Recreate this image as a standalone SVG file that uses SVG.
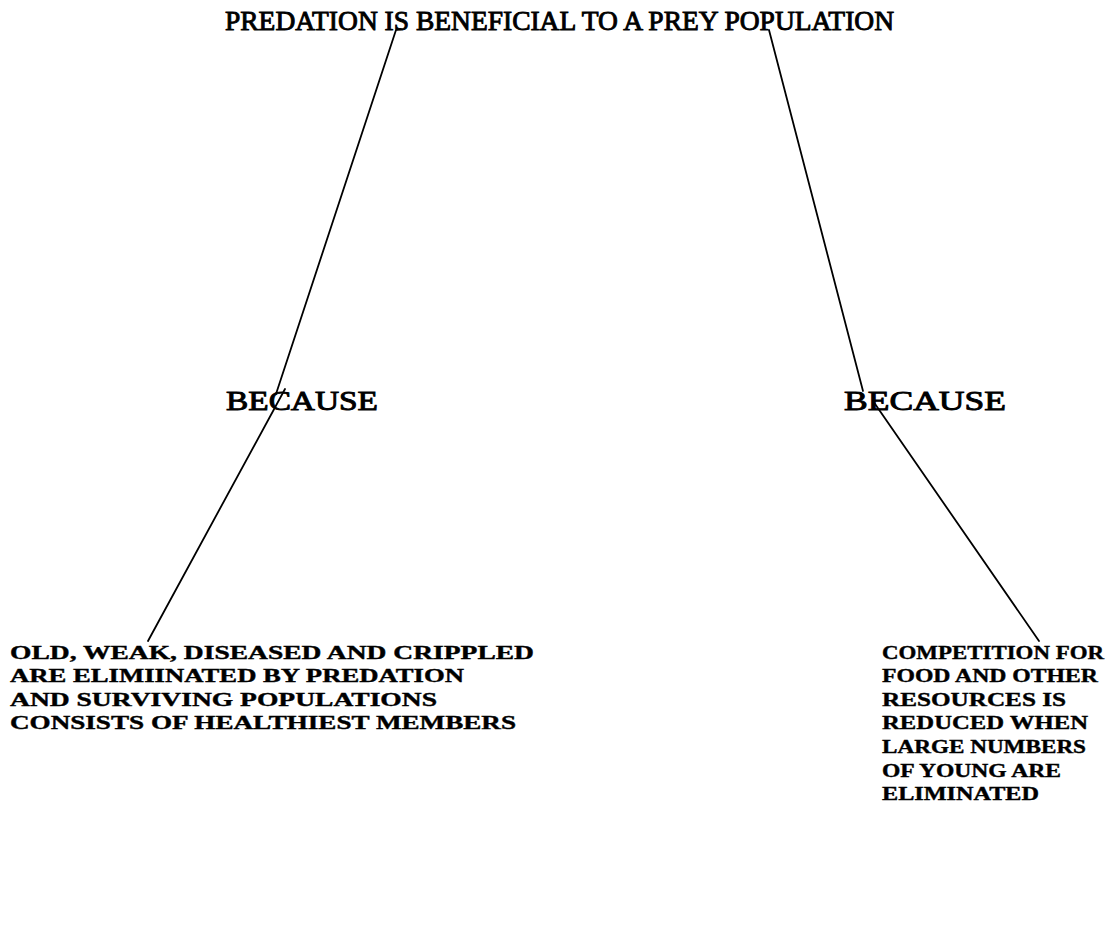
<svg xmlns="http://www.w3.org/2000/svg" width="1113" height="938" viewBox="0 0 1113 938">
<style>
.t{font-family:"Liberation Serif","Times New Roman",serif;fill:#000;stroke:#000;}
.h{font-size:27px;stroke-width:0.9;}
.b{font-size:27px;stroke-width:0.9;}
.s{font-size:19.5px;font-weight:bold;stroke-width:0.4;}
.c{stroke:#000;stroke-width:1.8;fill:none;stroke-linecap:round;}
</style>
<rect width="1113" height="938" fill="#fff"/>
<g id="title"><text class="t h" x="225" y="30" textLength="669" lengthAdjust="spacingAndGlyphs">PREDATION IS BENEFICIAL TO A PREY POPULATION</text></g>
<g id="because-left"><text class="t b" x="226" y="410" textLength="152" lengthAdjust="spacingAndGlyphs">BECAUSE</text></g>
<g id="because-right"><text class="t b" x="844" y="410" textLength="162" lengthAdjust="spacingAndGlyphs">BECAUSE</text></g>
<g id="reason-left" class="t s">
<text x="10" y="659" textLength="524" lengthAdjust="spacingAndGlyphs">OLD, WEAK, DISEASED AND CRIPPLED</text>
<text x="10" y="682" textLength="454" lengthAdjust="spacingAndGlyphs">ARE ELIMIINATED BY PREDATION</text>
<text x="10" y="706" textLength="427" lengthAdjust="spacingAndGlyphs">AND SURVIVING POPULATIONS</text>
<text x="10" y="729" textLength="506" lengthAdjust="spacingAndGlyphs">CONSISTS OF HEALTHIEST MEMBERS</text>
</g>
<g id="reason-right" class="t s">
<text x="882" y="659" textLength="222" lengthAdjust="spacingAndGlyphs">COMPETITION FOR</text>
<text x="882" y="682" textLength="216" lengthAdjust="spacingAndGlyphs">FOOD AND OTHER</text>
<text x="882" y="706" textLength="184" lengthAdjust="spacingAndGlyphs">RESOURCES IS</text>
<text x="882" y="729" textLength="206" lengthAdjust="spacingAndGlyphs">REDUCED WHEN</text>
<text x="882" y="753" textLength="204" lengthAdjust="spacingAndGlyphs">LARGE NUMBERS</text>
<text x="882" y="777" textLength="179" lengthAdjust="spacingAndGlyphs">OF YOUNG ARE</text>
<text x="882" y="800" textLength="157" lengthAdjust="spacingAndGlyphs">ELIMINATED</text>
</g>
<g id="connectors" class="c">
<path d="M401,29 L396,30 L276,394"/>
<path d="M285,389 L148,641"/>
<path d="M769,30 L863,391"/>
<path d="M873,401 L1039,641"/>
</g>
</svg>
